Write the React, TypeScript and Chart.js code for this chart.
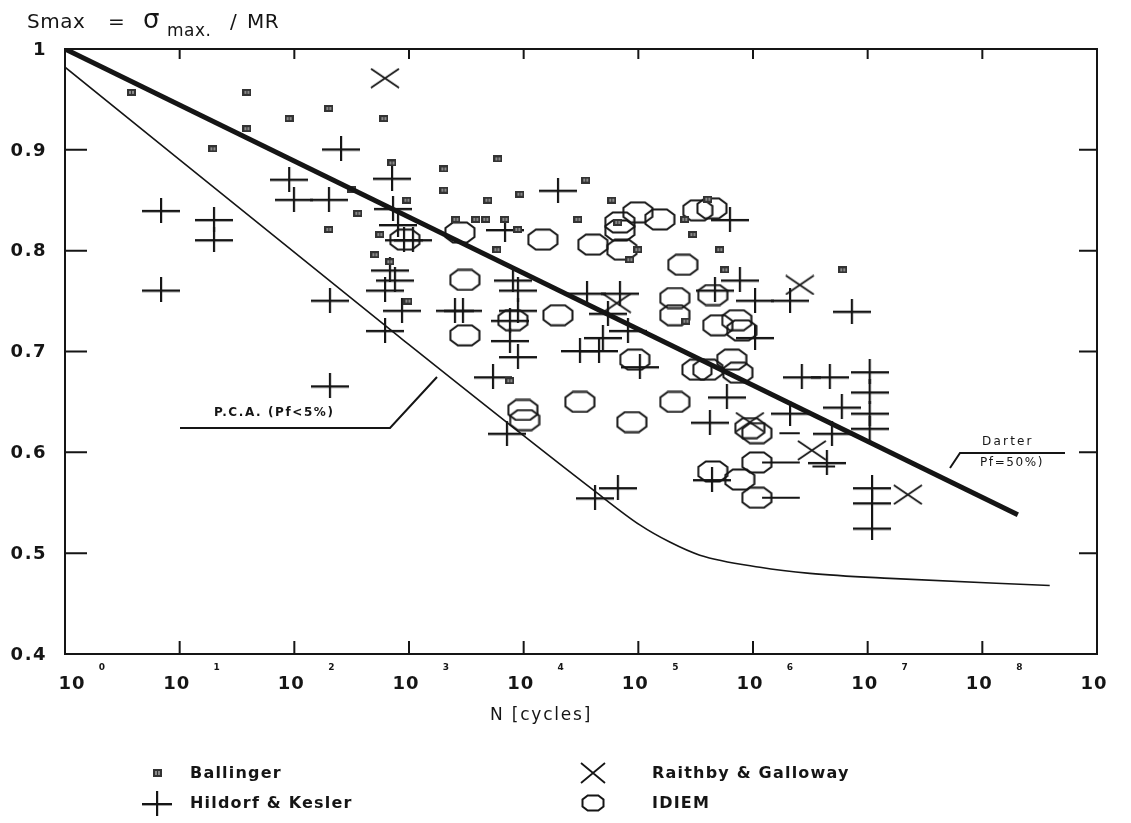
import React, { useEffect, useRef } from "react";
import { Chart, registerables } from "chart.js";

Chart.register(...registerables);

// ---------- axis / tick data ----------
const X_MIN = 1;
const X_MAX = 1e9;
const Y_MIN = 0.4;
const Y_MAX = 1.0;
const yTickValues = [0.4, 0.5, 0.6, 0.7, 0.8, 0.9, 1.0];
const yTickLabels = ["0.4", "0.5", "0.6", "0.7", "0.8", "0.9", "1"];
const xTickExponents = [0, 1, 2, 3, 4, 5, 6, 7, 8, 9];
const xTitle = "N [cycles]";

// ---------- series: [N cycles, Smax] ----------
const ballinger: [number, number][] = [
  [3.8, 0.957], [38.6, 0.957], [38.6, 0.921], [90, 0.931], [200, 0.941], [19.5, 0.901],
  [604, 0.931], [710, 0.887], [318, 0.861], [358, 0.837], [200, 0.821], [557, 0.816],
  [504, 0.796], [681, 0.789], [5960, 0.891], [2015, 0.881], [2015, 0.86], [959, 0.85],
  [4875, 0.85], [9270, 0.856], [34800, 0.87], [58700, 0.85], [2565, 0.831], [3830, 0.831],
  [4680, 0.831], [6860, 0.831], [8900, 0.821], [29700, 0.831], [5840, 0.801], [66200, 0.828],
  [99000, 0.801], [84300, 0.791], [254000, 0.831], [299000, 0.816], [978, 0.75],
  [260000, 0.73], [7580, 0.671], [404000, 0.851], [513000, 0.801], [568000, 0.781],
  [6.07e6, 0.781],
];

const hildorfKesler: [number, number][] = [
  [6.87, 0.84], [19.9, 0.831], [19.9, 0.811], [6.87, 0.761], [255, 0.901], [90, 0.871],
  [99, 0.851], [200, 0.851], [204, 0.751], [204, 0.666], [710, 0.872], [617, 0.761],
  [617, 0.721], [724, 0.842], [800, 0.826], [903, 0.811], [681, 0.781], [753, 0.771],
  [867, 0.741], [19900, 0.86], [1080, 0.811], [6860, 0.821], [8050, 0.771], [8900, 0.761],
  [8900, 0.741], [2510, 0.741], [2950, 0.741], [7580, 0.731], [7580, 0.711], [8900, 0.695],
  [5390, 0.675], [35600, 0.758], [69000, 0.758], [54200, 0.738], [49000, 0.714],
  [81000, 0.721], [30900, 0.701], [45300, 0.701], [103000, 0.685], [7130, 0.619],
  [41800, 0.555], [66200, 0.565], [628000, 0.831], [767000, 0.771], [1.04e6, 0.751],
  [2.1e6, 0.751], [7.27e6, 0.74], [2.66e6, 0.675], [4.67e6, 0.675], [1.04e7, 0.68],
  [1.04e7, 0.66], [1.04e6, 0.714], [591000, 0.655], [2.1e6, 0.639], [5.94e6, 0.645],
  [1.04e7, 0.639], [1.04e7, 0.624], [4.87e6, 0.619], [4.4e6, 0.59], [1.09e7, 0.565],
  [1.09e7, 0.55], [1.09e7, 0.525], [420000, 0.63], [438000, 0.573], [465000, 0.761],
];

const raithbyGalloway: [number, number][] = [
  [617, 0.971], [64900, 0.748], [2.56e6, 0.766], [3.26e6, 0.602], [938000, 0.63],
  [2.24e7, 0.558],
];

const idiem: [number, number][] = [
  [2780, 0.818], [920, 0.811], [14700, 0.811], [3070, 0.771], [3070, 0.716], [8050, 0.731],
  [19900, 0.736], [40100, 0.806], [71800, 0.801], [69000, 0.828], [69000, 0.82],
  [99000, 0.838], [154000, 0.831], [330000, 0.84], [244000, 0.786], [208000, 0.753],
  [208000, 0.736], [93100, 0.692], [30900, 0.65], [9840, 0.642], [208000, 0.65],
  [324000, 0.682], [10200, 0.632], [87800, 0.63], [438000, 0.842], [446000, 0.756],
  [493000, 0.726], [722000, 0.731], [798000, 0.721], [404000, 0.682], [653000, 0.692],
  [738000, 0.679], [938000, 0.624], [1.08e6, 0.619], [1.08e6, 0.59], [446000, 0.581],
  [767000, 0.573], [1.08e6, 0.555],
];

// run-out arrows (start N, end N, Smax)
const runouts: [number, number, number][] = [
  [1.2e6, 2.56e6, 0.59], [1.2e6, 2.56e6, 0.555], [1.7e6, 2.56e6, 0.619], [3.3e6, 5.2e6, 0.586],
];

// design curves
const darterCurve: [number, number][] = [
  [1, 1.0], [2.04e8, 0.538],
];
const pcaCurve: [number, number][] = [
  [1, 0.982], [833, 0.714], [40100, 0.563], [103000, 0.528], [188000, 0.511],
  [344000, 0.498], [1.15e6, 0.486], [3.13e6, 0.48], [1.56e7, 0.475], [3.87e8, 0.468],
];

const legendItems = [
  { label: "Ballinger", key: "ballinger" },
  { label: "Hildorf & Kesler", key: "cross" },
  { label: "Raithby & Galloway", key: "x" },
  { label: "IDIEM", key: "oct" },
];

const INK = "#151515";
const FONT = "'DejaVu Sans', 'Liberation Sans', sans-serif";

function makeCanvas(w: number, h: number) {
  const c = document.createElement("canvas");
  c.width = w;
  c.height = h;
  return c;
}

function makeCross(w: number, h: number) {
  const c = makeCanvas(w, h);
  const g = c.getContext("2d")!;
  g.fillStyle = INK;
  const cy = Math.round(h / 2);
  const cx = Math.round(w / 2);
  g.fillRect(0, cy - 1, w, 2.4);
  g.fillRect(cx - 1, 0, 2.2, h);
  return c;
}

function makeX(w: number, h: number) {
  const c = makeCanvas(w, h);
  const g = c.getContext("2d")!;
  g.strokeStyle = INK;
  g.lineWidth = 1.8;
  g.beginPath();
  g.moveTo(1, 1);
  g.lineTo(w - 1, h - 1);
  g.moveTo(w - 1, 1);
  g.lineTo(1, h - 1);
  g.stroke();
  return c;
}

function makeOct(w: number, h: number) {
  const c = makeCanvas(w, h);
  const g = c.getContext("2d")!;
  g.strokeStyle = INK;
  g.lineWidth = 2;
  const p = 1.5;
  const a = w * 0.28;
  const b = h * 0.3;
  g.beginPath();
  g.moveTo(a, p);
  g.lineTo(w - a, p);
  g.lineTo(w - p, b);
  g.lineTo(w - p, h - b);
  g.lineTo(w - a, h - p);
  g.lineTo(a, h - p);
  g.lineTo(p, h - b);
  g.lineTo(p, b);
  g.closePath();
  g.stroke();
  return c;
}

function makeBallinger(w: number, h: number) {
  const c = makeCanvas(w, h);
  const g = c.getContext("2d")!;
  g.fillStyle = "#333";
  g.fillRect(0, 0, w, h);
  g.fillStyle = "#8a8a8a";
  g.fillRect(2, 2, 2, h - 4);
  g.fillRect(w - 4, 2, 2, h - 4);
  return c;
}

const toXY = (arr: [number, number][]) => arr.map(([x, y]) => ({ x, y }));

export default function App() {
  const ref = useRef<HTMLCanvasElement | null>(null);

  useEffect(() => {
    if (!ref.current) return;
    const styles: Record<string, HTMLCanvasElement> = {
      ballinger: makeBallinger(9, 7),
      cross: makeCross(38, 25),
      x: makeX(30, 21),
      oct: makeOct(32, 23),
    };
    const legendStyles: Record<string, HTMLCanvasElement> = {
      ballinger: makeBallinger(9, 8),
      cross: makeCross(30, 25),
      x: makeX(26, 22),
      oct: makeOct(24, 18),
    };

    const runoutData: any[] = [];
    runouts.forEach(([a, b, s]) => {
      runoutData.push({ x: a, y: s }, { x: b, y: s }, { x: b, y: null });
    });

    const text = (
      ctx: CanvasRenderingContext2D,
      str: string,
      x: number,
      y: number,
      font: string,
      align: CanvasTextAlign = "left",
      spacing = 0
    ) => {
      ctx.font = font;
      (ctx as any).letterSpacing = spacing + "px";
      ctx.textAlign = align;
      ctx.fillText(str, x, y);
      (ctx as any).letterSpacing = "0px";
    };

    const extras = {
      id: "extras",
      beforeDatasetsDraw(chart: any) {
        const ctx: CanvasRenderingContext2D = chart.ctx;
        ctx.save();
        ctx.fillStyle = INK;
        ctx.strokeStyle = INK;
        ctx.textBaseline = "middle";
        // P.C.A. annotation
        text(ctx, "P.C.A. (Pf<5%)", 214, 413, `bold 12px ${FONT}`, "left", 1.6);
        ctx.lineWidth = 2;
        ctx.beginPath();
        ctx.moveTo(180, 428);
        ctx.lineTo(390, 428);
        ctx.lineTo(437, 377);
        ctx.stroke();
        // Darter annotation
        text(ctx, "Darter", 982, 442, `12px ${FONT}`, "left", 2.2);
        text(ctx, "Pf=50%)", 980, 463, `12px ${FONT}`, "left", 1.6);
        ctx.beginPath();
        ctx.moveTo(950, 468);
        ctx.lineTo(960, 453);
        ctx.lineTo(1065, 453);
        ctx.stroke();
        ctx.restore();
      },
      afterDraw(chart: any) {
        const ctx: CanvasRenderingContext2D = chart.ctx;
        const { left, right, top, bottom } = chart.chartArea;
        const xs = chart.scales.x;
        const ys = chart.scales.y;
        ctx.save();
        ctx.strokeStyle = INK;
        ctx.fillStyle = INK;
        ctx.lineWidth = 2;
        ctx.strokeRect(left, top, right - left, bottom - top);
        ctx.textBaseline = "middle";
        // y ticks + labels
        yTickValues.forEach((v, i) => {
          const py = ys.getPixelForValue(v);
          ctx.beginPath();
          ctx.moveTo(left, py);
          ctx.lineTo(left + 22, py);
          ctx.moveTo(right - 18, py);
          ctx.lineTo(right, py);
          ctx.stroke();
          text(ctx, yTickLabels[i], left - 18, py + 1, `bold 18px ${FONT}`, "right", 1.5);
        });
        // x ticks + labels
        xTickExponents.forEach((e) => {
          const px = xs.getPixelForValue(Math.pow(10, e));
          ctx.beginPath();
          ctx.moveTo(px, bottom);
          ctx.lineTo(px, bottom - 13);
          ctx.moveTo(px, top);
          ctx.lineTo(px, top + 10);
          ctx.stroke();
          const cx = e === 0 ? px + 7 : px - 3;
          text(ctx, "10", cx, bottom + 30, `bold 18px ${FONT}`, "center", 1);
          text(ctx, String(e), px + 37, bottom + 14, `bold 9px ${FONT}`, "center");
        });
        // axis titles
        text(ctx, xTitle, 490, 716, `17px ${FONT}`, "left", 1.8);
        text(ctx, "Smax", 27, 23, `20px ${FONT}`, "left", 0.5);
        text(ctx, "=", 108, 23, `20px ${FONT}`, "left");
        text(ctx, "σ", 143, 21, `26px ${FONT}`, "left");
        text(ctx, "max.", 167, 32, `17px ${FONT}`, "left", 0.5);
        text(ctx, "/", 230, 23, `20px ${FONT}`, "left");
        text(ctx, "MR", 247, 23, `20px ${FONT}`, "left", 0.5);
        // legend
        const lx = [157, 157, 593, 593];
        const ly = [773, 803, 773, 803];
        const tx = [190, 190, 652, 652];
        legendItems.forEach((it, i) => {
          const img = legendStyles[it.key];
          ctx.drawImage(img, Math.round(lx[i] - img.width / 2), Math.round(ly[i] - img.height / 2));
          text(ctx, it.label, tx[i], ly[i] + 1, `bold 16px ${FONT}`, "left", 1.2);
        });
        ctx.restore();
      },
    };

    const chart = new Chart(ref.current, {
      type: "scatter",
      data: {
        datasets: [
          {
            label: "Darter",
            type: "line",
            data: toXY(darterCurve),
            borderColor: INK,
            borderWidth: 5,
            pointRadius: 0,
            fill: false,
          } as any,
          {
            label: "P.C.A.",
            type: "line",
            data: toXY(pcaCurve),
            borderColor: INK,
            borderWidth: 1.6,
            pointRadius: 0,
            cubicInterpolationMode: "monotone",
            fill: false,
          } as any,
          {
            label: "Ballinger",
            data: toXY(ballinger),
            pointStyle: styles.ballinger,
            pointRadius: 5,
          },
          {
            label: "Hildorf & Kesler",
            data: toXY(hildorfKesler),
            pointStyle: styles.cross,
            pointRadius: 10,
          },
          {
            label: "Raithby & Galloway",
            data: toXY(raithbyGalloway),
            pointStyle: styles.x,
            pointRadius: 10,
          },
          {
            label: "IDIEM",
            data: toXY(idiem),
            pointStyle: styles.oct,
            pointRadius: 10,
          },
          {
            label: "runouts",
            type: "line",
            data: runoutData,
            borderColor: INK,
            borderWidth: 2,
            pointRadius: 0,
            spanGaps: false,
            fill: false,
          } as any,
        ],
      },
      options: {
        animation: false,
        responsive: false,
        events: [],
        layout: { padding: { left: 65, top: 49, right: 34, bottom: 169 } },
        scales: {
          x: { type: "logarithmic", min: X_MIN, max: X_MAX, display: false },
          y: { type: "linear", min: Y_MIN, max: Y_MAX, display: false },
        },
        plugins: { legend: { display: false }, tooltip: { enabled: false } },
      },
      plugins: [extras],
    });
    return () => chart.destroy();
  }, []);

  return (
    <div style={{ position: "absolute", left: 0, top: 0, width: 1131, height: 823, background: "#fff" }}>
      <canvas ref={ref} width={1131} height={823} />
    </div>
  );
}
